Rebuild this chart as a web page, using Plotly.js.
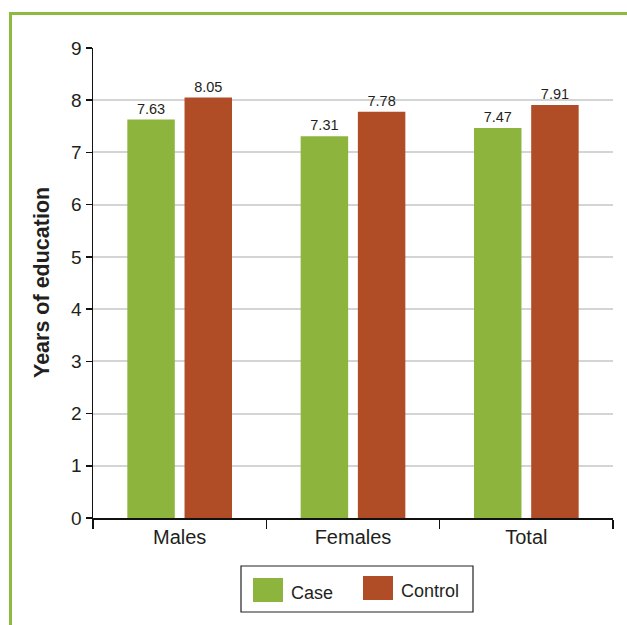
<!DOCTYPE html>
<html>
<head>
<meta charset="utf-8">
<script src="https://cdn.plot.ly/plotly-3.0.1.min.js"></script>
<style>
  html, body { margin: 0; padding: 0; background: #ffffff; }
  #chart { width: 627px; height: 625px; }
</style>
</head>
<body>
<div id="chart"></div>
<script>
// Mean years of education by group
const categories = ["Males", "Females", "Total"];
const caseValues = [7.63, 7.31, 7.47];
const controlValues = [8.05, 7.78, 7.91];
const seriesNames = ["Case", "Control"];
const yTickValues = [0, 1, 2, 3, 4, 5, 6, 7, 8, 9];

const GREEN = "#8db53e";
const BROWN = "#b04c26";
const FRAME = "#8dbb3f";
const INK = "#231f20";
const FONT = "'Liberation Sans', Arial, sans-serif";

const W = 627, H = 625;
const M = { l: 93, r: 14, t: 48, b: 107 };
const plotW = W - M.l - M.r, plotH = H - M.t - M.b;
// page pixel -> paper coordinate helpers for the decorations
const px = v => (v - M.l) / plotW;
const py = v => (H - M.b - v) / plotH;

const labelFmt = v => v.toFixed(2);

const traces = [
  {
    type: "bar", name: seriesNames[0], x: categories, y: caseValues,
    marker: { color: GREEN },
    text: caseValues.map(labelFmt), textposition: "outside",
    textfont: { family: FONT, size: 14.5, color: INK },
    cliponaxis: false, showlegend: false, hoverinfo: "x+y"
  },
  {
    type: "bar", name: seriesNames[1], x: categories, y: controlValues,
    marker: { color: BROWN },
    text: controlValues.map(labelFmt), textposition: "outside",
    textfont: { family: FONT, size: 14.5, color: INK },
    cliponaxis: false, showlegend: false, hoverinfo: "x+y"
  }
];

// legend drawn as a boxed key below the axis
const legendShapes = [
  { type: "rect", xref: "paper", yref: "paper",
    x0: px(241), x1: px(473), y0: py(612), y1: py(566),
    line: { color: "#222222", width: 1.2 }, fillcolor: "#ffffff" },
  { type: "rect", xref: "paper", yref: "paper",
    x0: px(253), x1: px(283), y0: py(602), y1: py(578),
    line: { width: 0 }, fillcolor: GREEN },
  { type: "rect", xref: "paper", yref: "paper",
    x0: px(363), x1: px(393), y0: py(600), y1: py(576),
    line: { width: 0 }, fillcolor: BROWN }
];

// green frame along the top and left edges
const frameShape = {
  type: "path", xref: "paper", yref: "paper",
  path: `M ${px(10.5)} ${py(H + 5)} L ${px(10.5)} ${py(13.5)} L ${px(W + 5)} ${py(13.5)}`,
  line: { color: FRAME, width: 3 }
};

const annotations = [
  { xref: "paper", yref: "paper", x: px(289), y: py(593), xanchor: "left", yanchor: "middle",
    text: seriesNames[0], showarrow: false, font: { family: FONT, size: 18, color: INK } },
  { xref: "paper", yref: "paper", x: px(399), y: py(591), xanchor: "left", yanchor: "middle",
    text: seriesNames[1], showarrow: false, font: { family: FONT, size: 18, color: INK } },
  { xref: "paper", yref: "paper", x: px(42), y: 0.5, xanchor: "center", yanchor: "middle",
    textangle: -90, text: "<b>Years of education</b>", showarrow: false,
    font: { family: FONT, size: 21.5, color: INK } }
];

const layout = {
  width: W, height: H,
  margin: M,
  paper_bgcolor: "#ffffff", plot_bgcolor: "#ffffff",
  barmode: "group", bargap: 0.34, bargroupgap: 0.17,
  showlegend: false,
  font: { family: FONT, color: INK },
  xaxis: {
    type: "category",
    showline: true, linecolor: "#111111", linewidth: 1.5,
    ticks: "outside", tickson: "boundaries", ticklen: 9, tickwidth: 1.5, tickcolor: "#111111",
    tickfont: { family: FONT, size: 20, color: INK },
    showgrid: false, zeroline: false
  },
  yaxis: {
    range: [0, 9], tickvals: yTickValues, ticktext: yTickValues.map(String),
    showline: true, linecolor: "#111111", linewidth: 1.5,
    ticks: "outside", ticklen: 6, tickwidth: 1.5, tickcolor: "#111111",
    tickfont: { family: FONT, size: 19, color: INK },
    showgrid: true, gridcolor: "#d4d4d4", gridwidth: 2,
    zeroline: false
  },
  shapes: [frameShape, ...legendShapes],
  annotations: annotations
};

Plotly.newPlot("chart", traces, layout, { displayModeBar: false, staticPlot: true });
</script>
</body>
</html>
